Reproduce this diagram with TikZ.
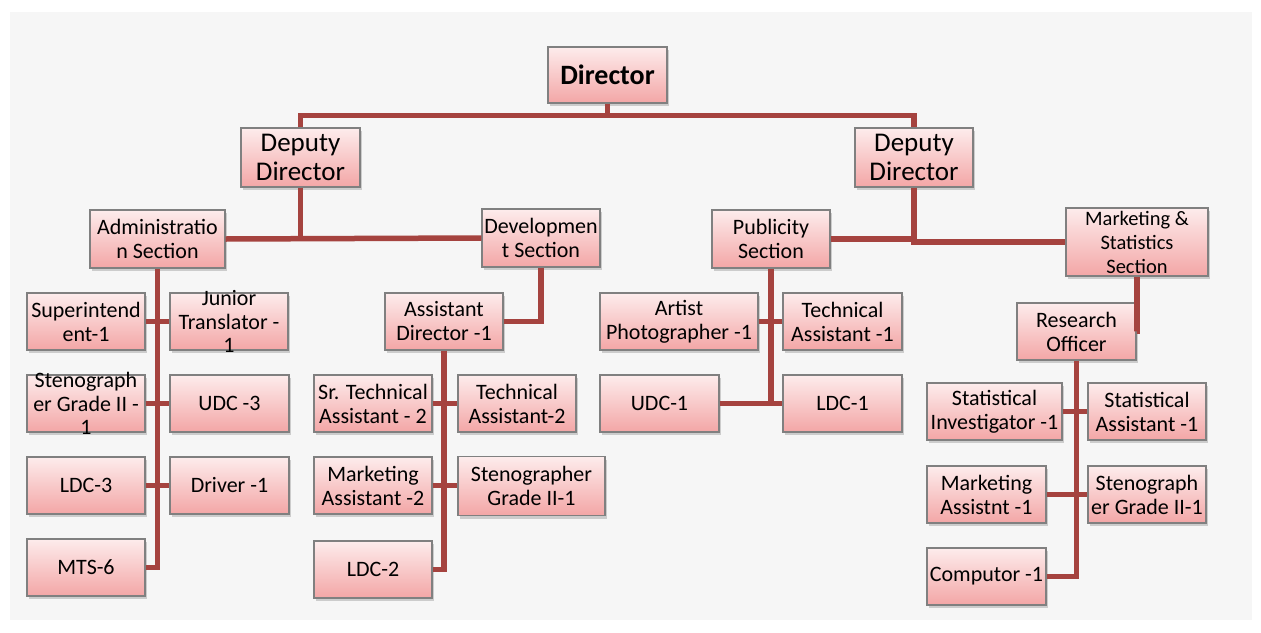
\documentclass[tikz,border=0pt]{standalone}
\usepackage{fontspec}
\setmainfont{Carlito}
\usepackage{tikz}
\usetikzlibrary{positioning, shadows, calc}
\definecolor{linkred}{RGB}{165, 67, 63}
\definecolor{boxgrey}{RGB}{128, 128, 128}
\definecolor{pinktop}{RGB}{253, 236, 236}
\definecolor{pinkbot}{RGB}{243, 166, 166}
\definecolor{panelgrey}{RGB}{246, 246, 246}

\begin{document}
\begin{tikzpicture}[x=1pt, y=-1pt,
    post/.style={draw=boxgrey, line width=1.2pt, top color=pinktop, bottom color=pinkbot,
        rectangle, align=center, inner sep=1pt, minimum width=118pt, minimum height=57pt,
        font=\fontsize{22}{24}\selectfont,
        drop shadow={shadow xshift=2pt, shadow yshift=-3pt, opacity=0.35}},
    overflow/.style={align=center, inner sep=0pt, font=\fontsize{22}{23.5}\selectfont},
    link/.style={draw=linkred, line width=5.5pt}]
    \useasboundingbox (0,0) rectangle (1261,632);
    \fill[white] (0,0) rectangle (1261,632);
    \fill[panelgrey] (10,12) rectangle (1252,620);

    % top levels
    \node[post, minimum width=119pt, minimum height=56pt, font=\fontsize{28}{30}\selectfont\bfseries] (dir) at (607.5,75) {Director};
    \node[post, minimum width=119pt, minimum height=59pt, font=\fontsize{27}{29}\selectfont] (depL) at (300.5,157.5) {Deputy\\Director};
    \node[post, minimum width=118pt, minimum height=59pt, font=\fontsize{27}{29}\selectfont] (depR) at (914,157.5) {Deputy\\Director};

    \node[post, minimum width=135pt, minimum height=58pt] (admin) at (157.5,239) {Administratio\\n Section};
    \node[post, minimum height=58pt] (devel) at (541,238) {Developmen\\t Section};
    \node[post, minimum height=58pt] (publ) at (771,239) {Publicity\\Section};
    \node[post, minimum width=142pt, minimum height=68pt, font=\fontsize{20.5}{24}\selectfont] (mkt) at (1137,242) {Marketing \&\\Statistics\\Section};

    % administration
    \node[post] (supt) at (86,321.5) {Superintend\\ent-1};
    \node[post, label={[overflow]center:Junior\\Translator -\\1}] (jtrans) at (229,321.5) {};
    \node[post, label={[overflow]center:Stenograph\\er Grade II -\\1}] (steno) at (86,403.5) {};
    \node[post, minimum width=119pt] (udcA) at (229.5,403.5) {UDC -3};
    \node[post] (ldcA) at (86,485.5) {LDC-3};
    \node[post, minimum width=119pt] (driver) at (229.5,485.5) {Driver -1};
    \node[post] (mts) at (86,567.5) {MTS-6};

    % development
    \node[post] (asstdir) at (444,321.5) {Assistant\\Director -1};
    \node[post] (srtech) at (373,403.5) {Sr. Technical\\Assistant - 2};
    \node[post] (techA) at (517,403.5) {Technical\\Assistant-2};
    \node[post] (mktasst) at (373,485.5) {Marketing\\Assistant -2};
    \node[post, minimum width=147pt, minimum height=59pt] (stenoB) at (531.5,486) {Stenographer\\Grade II-1};
    \node[post] (ldcB) at (373,569.5) {LDC-2};

    % publicity
    \node[post, minimum width=158pt] (artist) at (679,321.5) {Artist\\Photographer -1};
    \node[post, minimum width=119pt] (techB) at (842.5,321.5) {Technical\\Assistant -1};
    \node[post, minimum width=119pt] (udcB) at (659.5,403.5) {UDC-1};
    \node[post, minimum width=119pt] (ldcC) at (842.5,403.5) {LDC-1};

    % marketing and statistics
    \node[post, minimum width=119pt] (ro) at (1076.5,331.5) {Research\\Officer};
    \node[post, minimum width=135pt] (statinv) at (994.5,411.5) {Statistical\\Investigator -1};
    \node[post] (statasst) at (1147,411.5) {Statistical\\Assistant -1};
    \node[post, minimum width=119pt] (mktB) at (986.5,494.5) {Marketing\\Assistnt -1};
    \node[post] (stenoC) at (1147,494.5) {Stenograph\\er Grade II-1};
    \node[post, minimum width=119pt] (comp) at (986.5,576.5) {Computor -1};

    % connectors
    \draw[link] (dir.south) -- ++(0,12) coordinate (topbar);
    \draw[link] (depL.north) |- (topbar) -| (depR.north);
    \draw[link] (depL.south) -- (depL.south |- admin.east);
    \draw[link] (admin.east) -- (devel.west);
    \draw[link] (publ.east) -- (publ.east -| depR.south);
    \draw[link] (depR.south) |- (mkt.west);

    \draw[link] (admin.south) |- (mts.east);
    \draw[link] (supt.east) -- (jtrans.west);
    \draw[link] (steno.east) -- (udcA.west);
    \draw[link] (ldcA.east) -- (driver.west);

    \draw[link] (devel.south) |- (asstdir.east);
    \draw[link] (asstdir.south) |- (ldcB.east);
    \draw[link] (srtech.east) -- (techA.west);
    \draw[link] (mktasst.east) -- (mktasst.east -| stenoB.west);

    \draw[link] (publ.south) -- (publ.south |- udcB.east);
    \draw[link] (artist.east) -- (techB.west);
    \draw[link] (udcB.east) -- (ldcC.west);

    \draw[link] (mkt.south) |- (ro.east);
    \draw[link] (ro.south) |- (comp.east);
    \draw[link] (statinv.east) -- (statasst.west);
    \draw[link] (mktB.east) -- (stenoC.west);
\end{tikzpicture}
\end{document}
